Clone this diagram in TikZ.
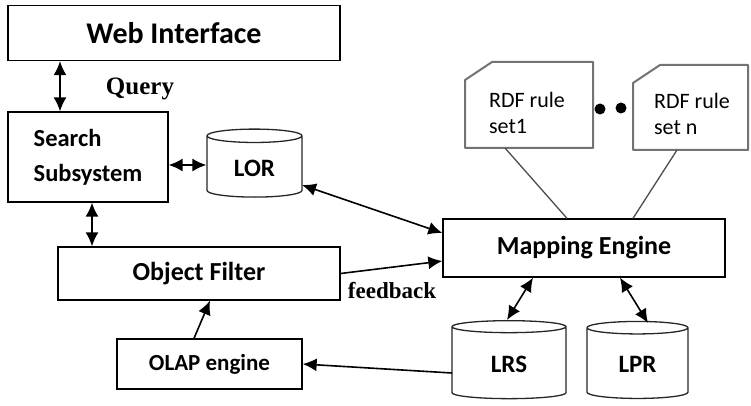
\documentclass[tikz,border=0pt]{standalone}
\usepackage{fontspec}
\setmainfont{Carlito}
\newfontfamily\serifbold{Liberation Serif}
\usetikzlibrary{arrows.meta, shapes.geometric}

\tikzset{
    box/.style={draw, line width=1.3pt, font=\bfseries\fontsize{26}{30}\selectfont},
    smallbox/.style={box, font=\bfseries\fontsize{23}{27}\selectfont},
    store/.style={draw=black!85, line width=1.3pt, cylinder, shape border rotate=90, aspect=0.28,
        font=\bfseries\fontsize{25}{28}\selectfont},
    ruletext/.style={align=left, inner sep=0pt, font=\fontsize{22}{26}\selectfont},
    cardline/.style={draw=black!55, line width=2pt, line join=round},
    link/.style={line width=1.6pt, {Latex[length=14pt,width=13pt]}-{Latex[length=14pt,width=13pt]}},
    onelink/.style={line width=1.6pt, -{Latex[length=14pt,width=13pt]}},
    plain/.style={line width=1.3pt, black!70},
    tag/.style={font=\serifbold\bfseries\fontsize{25}{28}\selectfont}
}

% card with a cut corner, drawn round a text node: left, top, right, bottom
\newcommand{\rulecard}[5]{
    \draw[cardline] ([shift={(#2,#3+18)}]#1.center) -- ([shift={(#2+27,#3)}]#1.center)
        -- ([shift={(#4,#3)}]#1.center) -- ([shift={(#4,#5)}]#1.center)
        -- ([shift={(#2,#5)}]#1.center) -- cycle;
}

\begin{document}
\begin{tikzpicture}[x=1pt, y=-1pt]
    \useasboundingbox (0,0) rectangle (751,406);

    % Boxes
    \node[box, minimum width=332pt, minimum height=55pt, font=\bfseries\fontsize{30}{34}\selectfont] (web) at (174,33) {Web Interface};
    \node[smallbox, minimum width=160pt, minimum height=90pt, align=left,
        font=\bfseries\fontsize{24.5}{35}\selectfont] (search) at (88,157) {Search\\Subsystem};
    \node[box, minimum width=282pt, minimum height=53pt] (filter) at (199,273.5) {Object Filter};
    \node[smallbox, minimum width=185pt, minimum height=50pt] (olap) at (209.5,364) {OLAP engine};
    \node[box, minimum width=282pt, minimum height=58pt] (map) at (584,248) {Mapping Engine};

    % Repositories
    \node[store, minimum width=95pt, minimum height=68pt] (lor) at (254.5,168) {LOR};
    \node[store, minimum width=114pt, minimum height=78pt] (lrs) at (509,364) {LRS};
    \node[store, minimum width=101pt, minimum height=77pt] (lpr) at (637.5,364.5) {LPR};

    % Rule sets
    \node[ruletext] (rdf1) at (527,113) {RDF rule\\set1};
    \node[ruletext] (rdfn) at (692,114) {RDF rule\\set n};
    \rulecard{rdf1}{-62}{-51}{66}{35}
    \rulecard{rdfn}{-59}{-49}{56}{36}
    \foreach \i/\x/\y in {1/600/109, 2/621/108}
        \node[circle, fill=black, inner sep=0pt, minimum size=11pt] (dot\i) at (\x,\y) {};

    % Labels
    \node[tag] (query) at (140,89) {Query};
    \node[tag, font=\serifbold\bfseries\fontsize{23}{27}\selectfont] (fb) at (392,291) {feedback};

    % Connections
    \draw[link] ([xshift=-28pt]search.north) -- ([xshift=-28pt]search.north |- web.south);
    \draw[link] ([shift={(0,8)}]search.east) -- ([shift={(0,8)}]search.east -| lor.west);
    \draw[link] ([xshift=4pt]search.south) -- ([xshift=4pt]search.south |- filter.north);
    \draw[link] ([shift={(47.5,17)}]lor.center) -- ([shift={(0,-15)}]map.west);
    \draw[onelink] (filter.east) -- ([shift={(0,13)}]map.west);
    \draw[onelink] ([shift={(-15.5,0)}]olap.north) -- ([shift={(11,0)}]filter.south);
    \draw[onelink] ([shift={(-57,9)}]lrs.center) -- (olap.east);
    \draw[link] ([shift={(-51,0)}]map.south) -- ([shift={(-2,-44)}]lrs.center);
    \draw[link] ([shift={(36,0)}]map.south) -- ([shift={(10.5,-41.5)}]lpr.center);
    \draw[plain] ([shift={(-22,35)}]rdf1.center) -- ([shift={(-17,0)}]map.north);
    \draw[plain] ([shift={(-15,36)}]rdfn.center) -- ([shift={(49,0)}]map.north);
\end{tikzpicture}
\end{document}
